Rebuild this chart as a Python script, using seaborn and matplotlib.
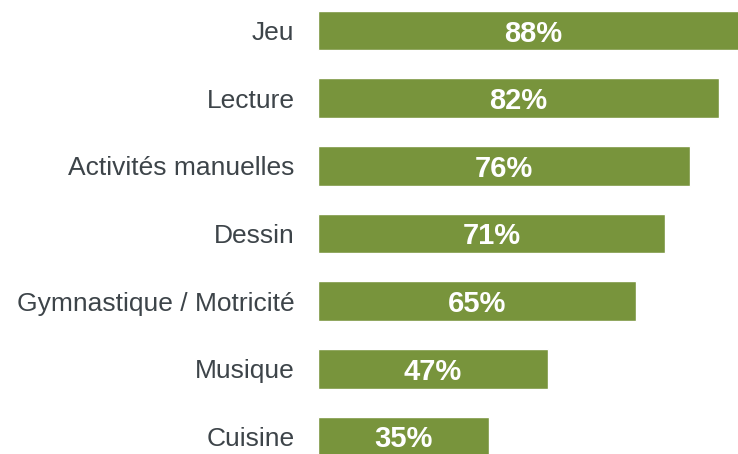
import matplotlib
matplotlib.use('Agg')

import pandas as pd
import matplotlib.pyplot as plt
import seaborn as sns

categories = ["Jeu", "Lecture", "Activités manuelles", "Dessin",
              "Gymnastique / Motricité", "Musique", "Cuisine"]
values = [88, 82, 76, 71, 65, 47, 35]

GREEN = "#78943c"
GREY = "#3d4449"

df = pd.DataFrame({"activite": categories, "pct": values})

sns.set_theme(style="white")
plt.rcParams['font.family'] = ['Liberation Sans', 'DejaVu Sans']

fig = plt.figure(figsize=(7.38, 4.54), dpi=100)
ax = fig.add_axes([318 / 738, 0, 420 / 738, 1])

sns.barplot(data=df, y="activite", x="pct", orient="h", color=GREEN,
            width=0.59, saturation=1, ax=ax)

ax.set_xlim(0, 420 / 4.89)
ax.set_ylim(6.259, -0.451)

for i, v in enumerate(values):
    ax.text(v / 2, i, f"{v}%", ha="center", va="center_baseline", color="white",
            fontsize=21, fontweight="bold", clip_on=False)

ax.set_xlabel("")
ax.set_ylabel("")
ax.set_xticks([])
ax.tick_params(axis="y", length=0, pad=17, labelsize=19, labelcolor=GREY)
sns.despine(ax=ax, left=True, bottom=True)

fig.savefig("out.png", dpi=100)
